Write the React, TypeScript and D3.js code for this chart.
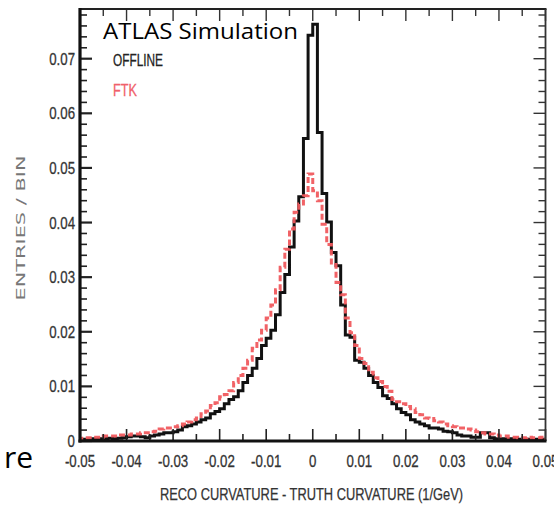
import React from "react";
import * as d3 from "d3";

// Bin layout: 100 bins of width 0.001 from -0.05 to 0.05
const binLow = -0.05;
const binWidth = 0.001;

// OFFLINE (black) entries per bin, left to right
const offlineValues = [
  0.0003, 0.0003, 0.0004, 0.0003, 0.0004, 0.0004, 0.0005, 0.0004, 0.0005, 0.0006,
  0.0008, 0.0009, 0.0009, 0.0008, 0.0006, 0.0009, 0.0011, 0.0013, 0.0015, 0.0015,
  0.0017, 0.002, 0.0026, 0.0028, 0.0031, 0.0035, 0.0039, 0.0042, 0.005, 0.0054,
  0.0059, 0.0068, 0.0076, 0.0081, 0.0092, 0.0107, 0.012, 0.0133, 0.0151, 0.0175,
  0.0188, 0.0203, 0.0231, 0.0272, 0.0305, 0.0355, 0.0403, 0.0447, 0.0554, 0.0743,
  0.0763, 0.0565, 0.0453, 0.0401, 0.0345, 0.0321, 0.0249, 0.0194, 0.019, 0.0148,
  0.0144, 0.0133, 0.012, 0.0107, 0.0098, 0.0083, 0.0078, 0.0068, 0.0059, 0.0052,
  0.0048, 0.0039, 0.0035, 0.0031, 0.0028, 0.0024, 0.0024, 0.0022, 0.0018, 0.0017,
  0.0015, 0.0011, 0.0009, 0.0009, 0.0007, 0.0007, 0.0015, 0.0015, 0.0006, 0.0004,
  0.0004, 0.0004, 0.0004, 0.0004, 0.0003, 0.0003, 0.0003, 0.0001, 0.0003, 0.0003,
];

// FTK (red dashed) entries per bin, left to right
const ftkValues = [
  0.0005, 0.0006, 0.0006, 0.0007, 0.0007, 0.0009, 0.0009, 0.0009, 0.0011, 0.0011,
  0.0011, 0.0013, 0.0013, 0.0015, 0.0015, 0.0017, 0.0018, 0.0022, 0.0024, 0.0024,
  0.0026, 0.0028, 0.0031, 0.0035, 0.0039, 0.0042, 0.005, 0.0055, 0.0065, 0.007,
  0.0081, 0.0085, 0.0092, 0.0107, 0.012, 0.0133, 0.0148, 0.017, 0.0185, 0.0203,
  0.0225, 0.0249, 0.0277, 0.0318, 0.0351, 0.0388, 0.0419, 0.0434, 0.0449, 0.0489,
  0.0458, 0.044, 0.0397, 0.036, 0.0323, 0.029, 0.0268, 0.0225, 0.0198, 0.0175,
  0.0151, 0.0142, 0.0126, 0.0116, 0.0109, 0.01, 0.0091, 0.0076, 0.0072, 0.0068,
  0.0063, 0.0059, 0.0052, 0.0048, 0.0042, 0.0041, 0.0037, 0.0035, 0.0031, 0.0028,
  0.0026, 0.0024, 0.0024, 0.0022, 0.002, 0.0017, 0.0015, 0.0013, 0.0013, 0.0011,
  0.0009, 0.0009, 0.0007, 0.0007, 0.0006, 0.0006, 0.0007, 0.0006, 0.0006, 0.0007,
];

const xTickLabels = ["-0.05", "-0.04", "-0.03", "-0.02", "-0.01", "0", "0.01", "0.02", "0.03", "0.04", "0.05"];
const xTickValues = [-0.05, -0.04, -0.03, -0.02, -0.01, 0, 0.01, 0.02, 0.03, 0.04, 0.05];
const yTickLabels = ["0", "0.01", "0.02", "0.03", "0.04", "0.05", "0.06", "0.07"];
const yTickValues = [0, 0.01, 0.02, 0.03, 0.04, 0.05, 0.06, 0.07];

const W = 554;
const H = 506;
const LEFT = 80;
const RIGHT = 545.5;
const TOP = 9;
const BOTTOM = 441;

const x = d3.scaleLinear().domain([-0.05, 0.05]).range([LEFT, RIGHT]);
const y = d3.scaleLinear().domain([0, 0.0791]).range([BOTTOM, TOP]);

function histPath(values: number[]): string {
  const pts: [number, number][] = [[binLow, 0]];
  values.forEach((v, i) => pts.push([binLow + i * binWidth, v]));
  const end = binLow + values.length * binWidth;
  pts.push([end, values[values.length - 1]]);
  pts.push([end, 0]);
  const line = d3
    .line<[number, number]>()
    .x((d) => x(d[0]))
    .y((d) => y(d[1]))
    .curve(d3.curveStepAfter);
  return line(pts) || "";
}

const NARROW = "'Liberation Sans', Arial, sans-serif";

function CText(props: {
  x: number;
  y: number;
  text: string;
  anchor?: string;
  size?: number;
  sx?: number;
  fill?: string;
}) {
  const { text, anchor = "middle", size = 17, sx = 0.78, fill = "#333" } = props;
  return (
    <text
      transform={`translate(${props.x},${props.y}) scale(${sx},1)`}
      textAnchor={anchor}
      fontFamily={NARROW}
      fontSize={size}
      fill={fill}
      stroke={fill}
      strokeWidth={0.3}
    >
      {text}
    </text>
  );
}

export default function App() {
  const minorX = d3.range(-0.05, 0.0501, 0.005);
  const minorY = d3.range(0, 0.0791, 0.002);

  return (
    <svg
      width={W}
      height={H}
      style={{ position: "absolute", left: 0, top: 0, background: "#fff" }}
    >
      <rect x={0} y={0} width={W} height={H} fill="#fff" />
      <defs>
        <clipPath id="plotclip">
          <rect x={LEFT} y={TOP - 5} width={RIGHT - LEFT} height={BOTTOM - TOP + 5} />
        </clipPath>
      </defs>

      {/* histograms */}
      <g clipPath="url(#plotclip)">
        <path d={histPath(offlineValues)} fill="none" stroke="#111" strokeWidth={3} />
        <path
          d={histPath(ftkValues)}
          fill="none"
          stroke="#f05a5e"
          strokeWidth={3}
          strokeDasharray="6,3"
          opacity={0.95}
        />
      </g>

      {/* minor / major ticks on x (bottom and top) */}
      {minorX.map((v, i) => {
        const major = Math.abs(Math.round(v * 1000) % 10) === 0;
        const len = major ? 12 : 7;
        const xx = x(v);
        return (
          <g key={"xt" + i}>
            <line x1={xx} x2={xx} y1={BOTTOM} y2={BOTTOM - len} stroke="#222" strokeWidth={1.6} />
            <line x1={xx} x2={xx} y1={TOP} y2={TOP + len} stroke="#333" strokeWidth={1.4} />
          </g>
        );
      })}
      {/* ticks on y (left and right) */}
      {minorY.map((v, i) => {
        const major = Math.round(v * 1000) % 10 === 0;
        const len = major ? 12 : 7;
        const yy = y(v);
        return (
          <g key={"yt" + i}>
            <line x1={LEFT} x2={LEFT + len} y1={yy} y2={yy} stroke="#222" strokeWidth={major ? 2.2 : 1.6} />
            <line x1={RIGHT} x2={RIGHT - len} y1={yy} y2={yy} stroke="#333" strokeWidth={1.4} />
          </g>
        );
      })}

      {/* frame */}
      <line x1={LEFT} x2={RIGHT + 1} y1={TOP} y2={TOP} stroke="#222" strokeWidth={2.2} />
      <line x1={RIGHT} x2={RIGHT} y1={TOP} y2={BOTTOM} stroke="#333" strokeWidth={1.8} />
      <line x1={LEFT} x2={LEFT} y1={TOP - 1} y2={BOTTOM + 1.5} stroke="#111" strokeWidth={3.2} />
      <line x1={LEFT - 1.5} x2={RIGHT + 1} y1={BOTTOM} y2={BOTTOM} stroke="#111" strokeWidth={3.2} />

      {/* tick labels */}
      {xTickValues.map((v, i) => (
        <CText key={"xl" + i} x={x(v)} y={467} text={xTickLabels[i]} />
      ))}
      {yTickValues.map((v, i) => (
        <CText key={"yl" + i} x={75} y={y(v) + 6} text={yTickLabels[i]} anchor="end" />
      ))}

      {/* axis titles */}
      <text
        x={311.5}
        y={500}
        textAnchor="middle"
        fontFamily={NARROW}
        fontSize={16}
        fill="#333"
        stroke="#333"
        strokeWidth={0.25}
        textLength={303}
        lengthAdjust="spacingAndGlyphs"
      >
        RECO CURVATURE - TRUTH CURVATURE (1/GeV)
      </text>
      <text
        transform="translate(25,228) rotate(-90)"
        textAnchor="middle"
        fontFamily="'DejaVu Sans', sans-serif"
        fontSize={12}
        fill="#777"
        textLength={145}
        lengthAdjust="spacingAndGlyphs"
      >
        ENTRIES / BIN
      </text>

      {/* ATLAS label and legend */}
      <text
        x={103}
        y={38.5}
        fontFamily="'Open Sans', 'Noto Sans', sans-serif"
        fontSize={22}
        fill="#000"
        textLength={195}
        lengthAdjust="spacingAndGlyphs"
      >
        ATLAS Simulation
      </text>
      <text
        x={113}
        y={66}
        fontFamily={NARROW}
        fontSize={17}
        fill="#222"
        stroke="#222"
        strokeWidth={0.3}
        textLength={50}
        lengthAdjust="spacingAndGlyphs"
      >
        OFFLINE
      </text>
      <text
        x={113}
        y={96}
        fontFamily={NARROW}
        fontSize={17}
        fill="#f0606a"
        stroke="#f0606a"
        strokeWidth={0.3}
        textLength={24}
        lengthAdjust="spacingAndGlyphs"
      >
        FTK
      </text>

      {/* cut-off slide text */}
      <text
        x={33}
        y={468}
        textAnchor="end"
        fontFamily="'Open Sans', 'Noto Sans', sans-serif"
        fontSize={30}
        fill="#000"
      >
        re
      </text>
    </svg>
  );
}
